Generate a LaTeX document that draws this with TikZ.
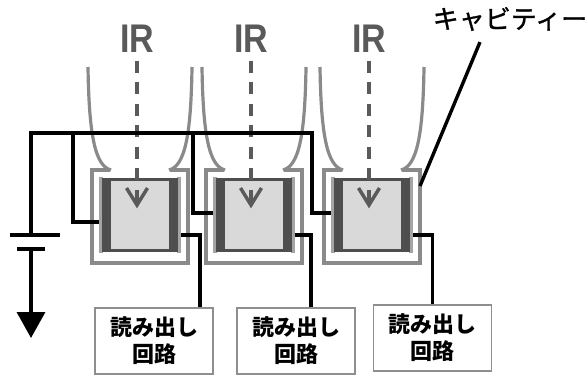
\documentclass[tikz,border=0pt]{standalone}
\usepackage{fontspec}
\setmainfont{Liberation Sans}
\newfontfamily\jpfont{Noto Sans CJK JP}
\newfontfamily\jplabel[FakeBold=1.2]{Noto Sans CJK JP}
\usetikzlibrary{arrows.meta,positioning,calc}
\definecolor{cupline}{HTML}{8A8A8A}
\definecolor{bar}{HTML}{4E4E4E}
\definecolor{band}{HTML}{A4A4A4}
\definecolor{cellfill}{HTML}{D9D9D9}
\definecolor{irtext}{HTML}{5A5A5A}
\definecolor{boxline}{HTML}{8E8E8E}
\tikzset{
  wire/.style={draw=black,line width=3.4pt},
  cup_line/.style={draw=cupline,line width=3.2pt},
  cell_box/.style={draw=bar,fill=cellfill,line width=1.6pt,
    minimum width=72pt,minimum height=70pt,inner sep=0pt},
  read_box/.style={draw=boxline,fill=white,line width=1.4pt,
    minimum width=118pt,minimum height=66pt,inner sep=0pt,align=center,
    font=\jpfont\bfseries\fontsize{22}{27}\selectfont},
  ir_label/.style={text=irtext,inner sep=0pt,
    font=\bfseries\fontsize{40}{40}\selectfont},
  ir_arrow/.style={draw=irtext,line width=3.8pt,dash pattern=on 12pt off 9.5pt},
  ir_head/.style={draw=irtext,line width=3.5pt},
}

\begin{document}
\begin{tikzpicture}[x=1pt,y=-1pt]
  \useasboundingbox (0,0) rectangle (588,376);

  % cavities: funnel, cup and detector cell
  \foreach \c/\n in {140/1,254/2,372/3}{
    \draw[cup_line] (\c-52,67) .. controls (\c-51,135) and (\c-45,166) .. (\c-29,170);
    \draw[cup_line] (\c+52,67) .. controls (\c+51,135) and (\c+45,166) .. (\c+29,170);
    \draw[cup_line] (\c-30,170) -- (\c-48,170) -- (\c-48,263)
      -- (\c+48,263) -- (\c+48,170) -- (\c+30,170);
    \coordinate (cup\n) at (\c+48,186);

    \node[cell_box] (cell\n) at (\c,215) {};
    \fill[band] ([xshift=-4pt,yshift=2pt]cell\n.north west) rectangle ([yshift=-2pt]cell\n.south west);
    \fill[band] ([yshift=2pt]cell\n.north east) rectangle ([xshift=4pt,yshift=-2pt]cell\n.south east);
    \fill[bar] (cell\n.north west) rectangle ([xshift=8pt]cell\n.south west);
    \fill[bar] ([xshift=-8pt]cell\n.north east) rectangle (cell\n.south east);
    \draw[bar,line width=1.6pt] (cell\n.north west) rectangle (cell\n.south east);

    % incoming IR, dashed with an open head
    \node[ir_label] (ir\n) at (\c-3,39) {\scalebox{0.85}[1]{IR}};
    \coordinate (tip\n) at (\c-3,205);
    \draw[ir_arrow] ([yshift=-8pt]ir\n.south) -- (tip\n);
    \draw[ir_head] ([shift={(-10.5,-17)}]tip\n) -- (tip\n) -- ([shift={(10.5,-17)}]tip\n);
  }

  % readout circuits
  \node[read_box] (read1) at (154,341) {読み出し\\回路};
  \node[read_box] (read2) at (296,341) {読み出し\\回路};
  \node[read_box] (read3) at (432.5,338) {読み出し\\回路};

  % bias line
  \coordinate (bat_pos) at (31,235);
  \coordinate (bat_neg) at (31,249);
  \coordinate (gnd) at (31,338);
  \coordinate (bus_end) at (312,133);
  \coordinate (tap1) at (73,133);
  \coordinate (tap2) at (193,133);
  \draw[wire] (bat_pos) |- (bus_end) |- ([xshift=-4pt,yshift=2pt]cell3.west);
  \draw[wire] (tap1) |- ([xshift=-4pt,yshift=-7pt]cell1.west);
  \draw[wire] (tap2) |- ([xshift=-4pt,yshift=2pt]cell2.west);

  % outputs
  \draw[wire] ([xshift=4pt,yshift=-20pt]cell1.east) -| ([xshift=46pt]read1.north);
  \draw[wire] ([xshift=4pt,yshift=-20pt]cell2.east) -| ([xshift=15pt]read2.north);
  \draw[wire] ([xshift=4pt,yshift=-20pt]cell3.east) -| (read3.north);

  % battery and ground arrow
  \draw[wire] ([xshift=-21pt]bat_pos) -- ([xshift=29pt]bat_pos);
  \draw[wire] ([xshift=-14pt]bat_neg) -- ([xshift=14pt]bat_neg);
  \draw[wire,-{Triangle[length=26pt,width=28pt]}] (bat_neg) -- (gnd);

  \node[font=\jplabel\fontsize{26}{26}\selectfont,inner sep=0pt] (cav_label) at (510,19) {キャビティー};
  \draw[wire] ([xshift=-30pt,yshift=-11pt]cav_label.south) -- (cup3);
\end{tikzpicture}
\end{document}
